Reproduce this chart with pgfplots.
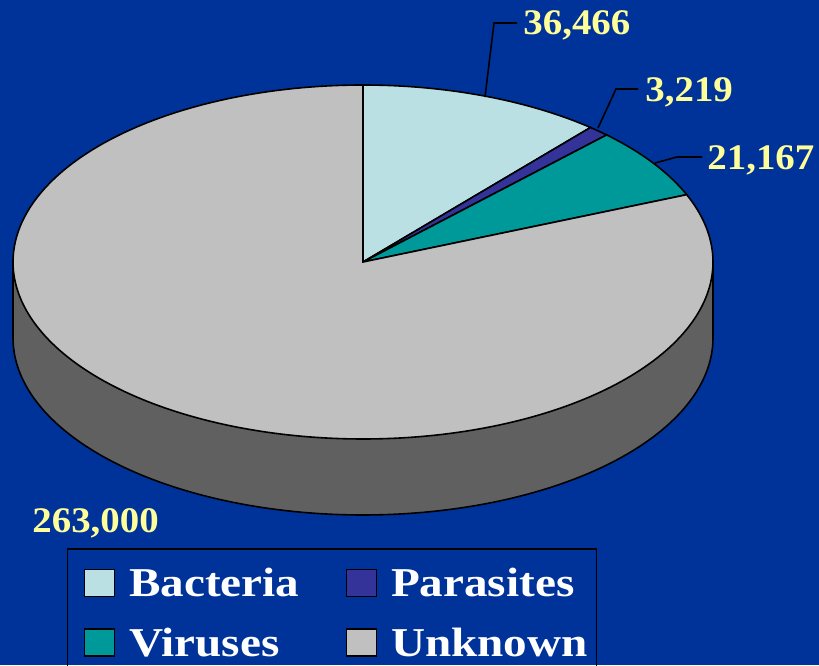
\documentclass[border=0pt]{standalone}
\usepackage{fontspec}
\setmainfont{Liberation Serif}
\newfontfamily\labfont[FakeStretch=1.08]{Liberation Serif}
\newfontfamily\legfont[FakeStretch=1.15]{Liberation Serif}
\usepackage{pgfplots}
\pgfplotsset{compat=1.18}
\definecolor{bg}{RGB}{0,51,153}
\definecolor{cBac}{RGB}{187,224,227}
\definecolor{cPar}{RGB}{51,51,153}
\definecolor{cVir}{RGB}{0,153,153}
\definecolor{cUnk}{RGB}{192,192,192}
\definecolor{cSide}{RGB}{96,96,96}
\definecolor{lab}{RGB}{255,255,153}
% data
\def\vB{36466}\def\vP{3219}\def\vV{21167}\def\vU{263000}
\edef\tot{\fpeval{\vB+\vP+\vV+\vU}}
\edef\aB{\fpeval{90-360*\vB/\tot}}
\edef\aC{\fpeval{\aB-360*\vP/\tot}}
\edef\aD{\fpeval{\aC-360*\vV/\tot}}
% geometry (px units)
\def\cx{363}\def\cy{403}\def\rx{350}\def\ry{177}\def\dep{76}
\begin{document}
\begin{tikzpicture}
\useasboundingbox (0,0) rectangle (409.5pt,332.5pt);
\clip (0,0) rectangle (409.5pt,332.5pt);
\fill[bg] (0,0) rectangle (409.5pt,332.5pt);
\begin{axis}[
  at={(0,0)}, anchor=south west,
  x=0.5pt, y=0.5pt,
  xmin=0, xmax=819, ymin=0, ymax=665,
  axis lines=none, clip=false,
  legend columns=2,
  legend cell align=left,
  legend image code/.code={%
    \path (-3.5pt,0pt);
    \draw[#1, draw=black, line width=0.75pt] (0pt,-6.75pt) rectangle (15pt,6.75pt);},
  legend style={
    at={(0.0818,0.1759)}, anchor=north west,
    draw=black, line width=0.75pt, fill=none, text=white,
    font=\fontsize{20.5pt}{24pt}\selectfont\legfont\bfseries,
    inner xsep=4.5pt, inner ysep=10pt, row sep=15.5pt,
    nodes={inner sep=0pt, text height=13.5pt, text depth=0pt},
    /tikz/every odd column/.append style={column sep=7pt},
    /tikz/every even column/.append style={column sep=19.5pt},
  },
]
% side of the pie (front half, Unknown)
\addplot[fill=cSide, draw=black, line width=0.8pt, domain=180:360, samples=120, forget plot]
  ({\cx+\rx*cos(x)},{\cy-\dep+\ry*sin(x)}) -- (axis cs:{\cx+\rx},\cy) -- (axis cs:{\cx-\rx},\cy) -- cycle;
% top sectors
\addplot[fill=cBac, draw=black, line width=0.8pt, domain=\aB:90, samples=40]
  ({\cx+\rx*cos(x)},{\cy+\ry*sin(x)}) -- (axis cs:\cx,\cy) -- cycle;
\addlegendentry{Bacteria}
\addplot[fill=cPar, draw=black, line width=0.8pt, domain=\aC:\aB, samples=6]
  ({\cx+\rx*cos(x)},{\cy+\ry*sin(x)}) -- (axis cs:\cx,\cy) -- cycle;
\addlegendentry{Parasites}
\addplot[fill=cVir, draw=black, line width=0.8pt, domain=\aD:\aC, samples=30]
  ({\cx+\rx*cos(x)},{\cy+\ry*sin(x)}) -- (axis cs:\cx,\cy) -- cycle;
\addlegendentry{Viruses}
\addplot[fill=cUnk, draw=black, line width=0.8pt, domain=-270:\aD, samples=240]
  ({\cx+\rx*cos(x)},{\cy+\ry*sin(x)}) -- (axis cs:\cx,\cy) -- cycle;
\addlegendentry{Unknown}
% leader lines
\addplot[black, line width=0.8pt, forget plot] coordinates {(485,568) (494,642) (517,642)};
\addplot[black, line width=0.8pt, forget plot] coordinates {(598,537) (616,576) (638,576)};
\addplot[black, line width=0.8pt, forget plot] coordinates {(655,502) (677,508) (702,508)};
% value labels
\begin{scope}[every node/.style={anchor=base west, inner sep=0pt, text=lab,
   font=\fontsize{18pt}{21pt}\selectfont\labfont\bfseries}]
\node at (axis cs:523,630) {36,466};
\node at (axis cs:645,563) {3,219};
\node at (axis cs:707,495) {21,167};
\node at (axis cs:32,133) {263,000};
\end{scope}
\end{axis}
\end{tikzpicture}
\end{document}
